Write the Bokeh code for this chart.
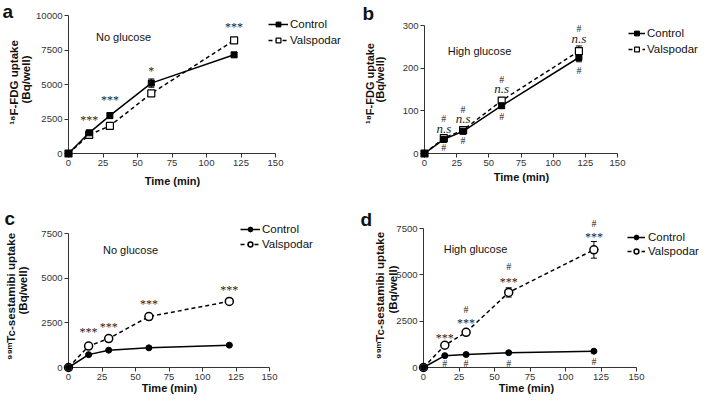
import math
from bokeh.plotting import figure
from bokeh.layouts import column, row
from bokeh.models import (Range1d, FixedTicker, Legend, LegendItem, Whisker,
                          ColumnDataSource, LabelSet, Label, TeeHead)
from bokeh.embed import file_html
from bokeh.resources import INLINE

FONT = "Liberation Sans"

time_min = [0, 15, 30, 60, 120]
x_ticks = [0, 25, 50, 75, 100, 125, 150]

# ---- panel a: 18F-FDG, no glucose
a_control = [0, 1500, 2750, 5100, 7150]
a_control_sem = [0, 100, 220, 300, 150]
a_valspodar = [0, 1350, 2000, 4350, 8200]
a_valspodar_sem = [0, 80, 100, 150, 100]
a_yticks = [0, 2500, 5000, 7500, 10000]
a_sig_x = [15, 30, 60, 120]
a_sig_y = [2625, 4077, 6180, 9393]
a_sig_text = ["***", "***", "*", "***"]

# ---- panel b: 18F-FDG, high glucose
b_control = [0, 33, 52, 112, 225]
b_control_sem = [0, 3, 3, 6, 10]
b_valspodar = [0, 36, 55, 124, 240]
b_valspodar_sem = [0, 2, 3, 5, 12]
b_yticks = [0, 100, 200, 300]
b_ns_x = [15, 30, 60, 120]
b_ns_y = [59, 81, 152, 270]
b_ns_text = ["n.s", "n.s", "n.s", "n.s"]
b_hash_hi_x = [15, 30, 60, 120]
b_hash_hi_y = [83, 102, 173, 294]
b_hash_lo_x = [15, 30, 60, 120]
b_hash_lo_y = [15, 30, 87, 195]

# ---- panel c: 99mTc-sestamibi, no glucose
c_control = [0, 720, 970, 1100, 1250]
c_control_sem = [0, 50, 50, 60, 50]
c_valspodar = [0, 1200, 1620, 2850, 3700]
c_valspodar_sem = [0, 80, 100, 180, 100]
c_yticks = [0, 2500, 5000, 7500]
c_sig_x = [15, 30, 60, 120]
c_sig_y = [2165, 2445, 3749, 4494]
c_sig_text = ["***", "***", "***", "***"]

# ---- panel d: 99mTc-sestamibi, high glucose
d_control = [0, 640, 700, 800, 880]
d_control_sem = [0, 40, 40, 40, 40]
d_valspodar = [0, 1200, 1900, 4050, 6350]
d_valspodar_sem = [0, 80, 100, 250, 450]
d_yticks = [0, 2500, 5000, 7500]
d_sig_x = [15, 30, 60, 120]
d_sig_y = [1763, 2572, 4784, 7213]
d_sig_text = ["***", "***", "***", "***"]
d_hash_hi_x = [30, 60, 120]
d_hash_hi_y = [3112, 5450, 7788]
d_hash_lo_x = [15, 30, 60, 120]
d_hash_lo_y = [198, 198, 232, 340]

FDG_LABEL = ["\u00b9\u2078F-FDG uptake", "(Bq/well)"]
MIBI_LABEL = ["\u2079\u2079\u1d50Tc-sestamibi uptake", "(Bq/well)"]


class Panel:
    """Figure whose frame fills the whole canvas; axes sit at data 0."""

    def __init__(self, W, H, ox, oy, px0, px150, py0, pytop, ymax, yticks):
        self.W, self.H, self.ox, self.oy = W, H, ox, oy
        self.px0, self.py0 = px0, py0
        self.sx = (px150 - px0) / 150.0
        self.sy = (py0 - pytop) / float(ymax)
        xs = -(px0 - ox) / self.sx
        ys = -(oy + H - py0) / self.sy
        p = figure(width=W, height=H, output_backend="svg", toolbar_location=None,
                   x_range=Range1d(xs, xs + W / self.sx),
                   y_range=Range1d(ys, ys + H / self.sy),
                   min_border=0)
        p.xgrid.visible = False
        p.ygrid.visible = False
        p.outline_line_color = None
        p.xaxis.ticker = FixedTicker(ticks=x_ticks)
        p.yaxis.ticker = FixedTicker(ticks=yticks)
        p.xaxis.bounds = (0, 150)
        p.yaxis.bounds = (0, ymax)
        p.xaxis.fixed_location = 0
        p.yaxis.fixed_location = 0
        for ax in (p.xaxis[0], p.yaxis[0]):
            ax.level = "underlay"
            ax.major_tick_in = 0
            ax.major_tick_out = 4
            ax.minor_tick_line_color = None
            ax.axis_line_color = "#333333"
            ax.major_tick_line_color = "#333333"
            ax.major_label_text_font = FONT
            ax.major_label_text_font_size = "9.5px"
            ax.major_label_text_color = "#333333"
            ax.major_label_standoff = 2
        self.p = p

    def data(self, page_x, page_y):
        return (page_x - self.px0) / self.sx, (self.py0 - page_y) / self.sy

    def label(self, page_x, page_y, text, size, style="normal", angle=0.0,
              align="center", baseline="middle"):
        x, y = self.data(page_x, page_y)
        self.p.add_layout(Label(x=x, y=y, text=text, text_font=FONT,
                                text_font_size=size, text_font_style=style,
                                angle=angle, text_align=align,
                                text_baseline=baseline, text_color="#111111"))

    def text_set(self, xs, ys, texts, size, style="normal", y_offset=0):
        src = ColumnDataSource(dict(x=xs, y=ys, t=texts))
        self.p.add_layout(LabelSet(x="x", y="y", text="t", source=src,
                                   text_font=FONT, text_font_size=size,
                                   text_font_style=style, text_align="center",
                                   text_baseline="middle", text_color="#222222",
                                   y_offset=y_offset))

    def series(self, marker, ctrl, ctrl_err, vals, vals_err, leg_left, leg_bottom,
               spacing, glyph_w=20, standoff=2):
        p = self.p
        circle = marker == "circle"
        styles = {
            "Valspodar": (vals, vals_err, "white", "4 3",
                          8 if circle else 7, 1.5 if circle else 1.2),
            "Control": (ctrl, ctrl_err, "black", "solid", 6, 1),
        }
        rends = {}
        # Valspodar first so that Control sits on top, as in the reference
        for name in ("Valspodar", "Control"):
            v, err, fill, dash, msize, mlw = styles[name]
            xs = [t for t, e in zip(time_min, err) if e > 0]
            lo = [a - e for a, e in zip(v, err) if e > 0]
            hi = [a + e for a, e in zip(v, err) if e > 0]
            wsrc = ColumnDataSource(dict(x=xs, lo=lo, hi=hi))
            p.add_layout(Whisker(source=wsrc, base="x", lower="lo", upper="hi",
                                 line_color="black", line_width=1, level="underlay",
                                 upper_head=TeeHead(size=6, line_color="black", line_width=1),
                                 lower_head=TeeHead(size=6, line_color="black", line_width=1)))
            lr = p.line(time_min, v, line_color="black", line_width=1.5, line_dash=dash)
            sr = p.scatter(time_min, v, marker=marker, size=msize, fill_color=fill,
                           line_color="black", line_width=mlw)
            rends[name] = [lr, sr]
        items = [LegendItem(label="Control", renderers=rends["Control"]),
                 LegendItem(label="Valspodar", renderers=rends["Valspodar"])]
        loc = (leg_left - self.ox, self.oy + self.H - leg_bottom)
        p.add_layout(Legend(items=items, location=loc, padding=0, margin=0,
                            spacing=spacing, glyph_width=glyph_w, glyph_height=12,
                            label_height=12, label_standoff=standoff,
                            label_text_font=FONT, label_text_font_size="11.5px",
                            label_text_color="#111111", border_line_color=None,
                            background_fill_alpha=0))


# layout: 2 x 2 figures, whole layout 701 x 394
W1, W2, H1, H2 = 350, 351, 197, 197

# ---------------- panel a
A = Panel(W1, H1, 0, 0, 68, 275, 153, 15, 10000, a_yticks)
A.series("square", a_control, a_control_sem, a_valspodar, a_valspodar_sem, 268, 46, 4,
         glyph_w=20, standoff=2)
A.label(2, 10.5, "a", "19px", "bold", align="left", baseline="alphabetic")
A.label(13, 82, FDG_LABEL[0], "11.5px", "bold", angle=math.pi / 2)
A.label(25, 79, FDG_LABEL[1], "11.5px", "bold", angle=math.pi / 2)
A.label(172, 180, "Time (min)", "11px", "bold")
A.label(123, 36, "No glucose", "11px")
A.text_set(a_sig_x, a_sig_y, a_sig_text, "12px", y_offset=-3)

# ---------------- panel b
B = Panel(W2, H1, W1, 0, 424, 617, 153, 25, 300, b_yticks)
B.series("square", b_control, b_control_sem, b_valspodar, b_valspodar_sem, 628, 55, 4,
         glyph_w=17, standoff=2)
B.label(362, 12.5, "b", "19px", "bold", align="left")
B.label(369, 83, FDG_LABEL[0], "11px", "bold", angle=math.pi / 2)
B.label(379, 79, FDG_LABEL[1], "11px", "bold", angle=math.pi / 2)
B.label(521, 176, "Time (min)", "11px", "bold")
B.label(479, 50, "High glucose", "11px")
B.text_set(b_ns_x, b_ns_y, b_ns_text, "13px", style="italic")
B.text_set(b_hash_hi_x, b_hash_hi_y, ["#"] * len(b_hash_hi_x), "10px")
B.text_set(b_hash_lo_x, b_hash_lo_y, ["#"] * len(b_hash_lo_x), "10px")

# ---------------- panel c
C = Panel(W1, H2, 0, H1, 68, 269, 367, 233, 7500, c_yticks)
C.series("circle", c_control, c_control_sem, c_valspodar, c_valspodar_sem, 240, 250, 3,
         glyph_w=20, standoff=2)
C.label(4, 218, "c", "19px", "bold", align="left")
C.label(10, 296, MIBI_LABEL[0], "11.5px", "bold", angle=math.pi / 2)
C.label(22, 290, MIBI_LABEL[1], "11.5px", "bold", angle=math.pi / 2)
C.label(169, 387, "Time (min)", "11px", "bold")
C.label(130, 249, "No glucose", "11px")
C.text_set(c_sig_x, c_sig_y, c_sig_text, "12px", y_offset=-3)

# ---------------- panel d
D = Panel(W2, H2, W1, H1, 423, 636, 367, 228, 7500, d_yticks)
D.series("circle", d_control, d_control_sem, d_valspodar, d_valspodar_sem, 627, 257, 2,
         glyph_w=18, standoff=3)
D.label(360, 219, "d", "19px", "bold", align="left")
D.label(379, 295, MIBI_LABEL[0], "11.5px", "bold", angle=math.pi / 2)
D.label(392, 289, MIBI_LABEL[1], "11.5px", "bold", angle=math.pi / 2)
D.label(526, 387, "Time (min)", "11px", "bold")
D.label(475, 248, "High glucose", "11px")
D.text_set(d_sig_x, d_sig_y, d_sig_text, "12px", y_offset=-3)
D.text_set(d_hash_hi_x, d_hash_hi_y, ["#"] * len(d_hash_hi_x), "10px")
D.text_set(d_hash_lo_x, d_hash_lo_y, ["#"] * len(d_hash_lo_x), "10px")

layout = column(row(A.p, B.p), row(C.p, D.p))
open("out.html", "w").write(file_html(layout, INLINE))
